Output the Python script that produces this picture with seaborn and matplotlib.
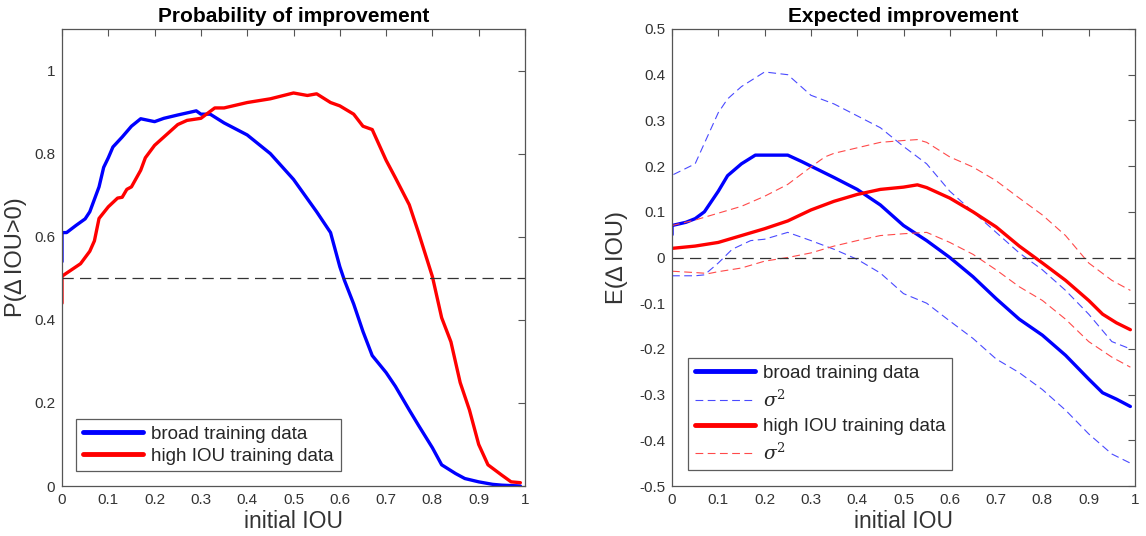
import numpy as np
import pandas as pd
import matplotlib
matplotlib.use("Agg")
import matplotlib.pyplot as plt
import seaborn as sns

# ---------------- data ----------------
# Probability of improvement
p_broad_x = [0.0, 0.0, 0.01, 0.03, 0.05, 0.06, 0.07, 0.08, 0.09, 0.10, 0.11, 0.13, 0.15, 0.17,
             0.20, 0.22, 0.25, 0.29, 0.30, 0.32, 0.35, 0.40, 0.45, 0.50, 0.55, 0.58, 0.60,
             0.61, 0.63, 0.65, 0.67, 0.70, 0.72, 0.75, 0.77, 0.80, 0.82, 0.85, 0.87, 0.90,
             0.93, 0.95, 0.99]
p_broad_y = [0.54, 0.61, 0.61, 0.627, 0.643, 0.66, 0.69, 0.72, 0.767, 0.79, 0.816, 0.84, 0.866,
             0.884, 0.877, 0.885, 0.893, 0.903, 0.895, 0.895, 0.874, 0.845, 0.80, 0.738, 0.66,
             0.61, 0.528, 0.495, 0.438, 0.372, 0.314, 0.273, 0.24, 0.183, 0.146, 0.092, 0.051,
             0.03, 0.018, 0.01, 0.004, 0.002, 0.0]

p_high_x = [0.0, 0.0, 0.02, 0.04, 0.06, 0.07, 0.08, 0.10, 0.12, 0.13, 0.14, 0.15, 0.17, 0.18,
            0.20, 0.22, 0.25, 0.27, 0.30, 0.33, 0.35, 0.40, 0.45, 0.50, 0.53, 0.55, 0.58,
            0.60, 0.63, 0.65, 0.67, 0.70, 0.72, 0.75, 0.77, 0.80, 0.82, 0.84, 0.86, 0.88,
            0.90, 0.92, 0.95, 0.97, 0.99]
p_high_y = [0.44, 0.505, 0.52, 0.535, 0.565, 0.59, 0.644, 0.672, 0.693, 0.695, 0.714, 0.72,
            0.76, 0.79, 0.82, 0.84, 0.87, 0.88, 0.885, 0.91, 0.91, 0.923, 0.932, 0.946, 0.94,
            0.944, 0.923, 0.915, 0.895, 0.866, 0.858, 0.784, 0.742, 0.677, 0.61, 0.504, 0.405,
            0.347, 0.249, 0.183, 0.10, 0.051, 0.026, 0.01, 0.008]

# Expected improvement
e_broad_x = [0.0, 0.0, 0.03, 0.05, 0.07, 0.10, 0.12, 0.15, 0.18, 0.20, 0.25, 0.28, 0.30, 0.35,
             0.40, 0.45, 0.50, 0.55, 0.60, 0.65, 0.70, 0.75, 0.80, 0.85, 0.90, 0.93, 0.96, 0.99]
e_broad_y = [0.05, 0.07, 0.077, 0.085, 0.10, 0.145, 0.179, 0.205, 0.224, 0.224, 0.224, 0.21,
             0.20, 0.175, 0.149, 0.115, 0.07, 0.037, 0.0, -0.042, -0.09, -0.135, -0.17,
             -0.214, -0.266, -0.296, -0.31, -0.326]

e_high_x = [0.0, 0.05, 0.10, 0.15, 0.20, 0.25, 0.30, 0.35, 0.40, 0.45, 0.50, 0.53, 0.55, 0.60,
            0.65, 0.70, 0.75, 0.80, 0.85, 0.90, 0.93, 0.96, 0.99]
e_high_y = [0.02, 0.025, 0.033, 0.048, 0.063, 0.08, 0.104, 0.123, 0.138, 0.149, 0.154, 0.159,
            0.153, 0.13, 0.10, 0.067, 0.025, -0.012, -0.05, -0.094, -0.124, -0.143, -0.158]

s_broad_up_x = [0.0, 0.0, 0.02, 0.05, 0.07, 0.10, 0.12, 0.15, 0.20, 0.25, 0.30, 0.35, 0.40, 0.45,
                0.50, 0.55, 0.60, 0.65, 0.70, 0.75, 0.80, 0.85, 0.90, 0.95, 0.99]
s_broad_up_y = [0.13, 0.18, 0.19, 0.205, 0.25, 0.317, 0.347, 0.374, 0.406, 0.40, 0.355, 0.336,
                0.31, 0.284, 0.243, 0.205, 0.145, 0.10, 0.055, 0.01, -0.027, -0.072, -0.124,
                -0.184, -0.20]

s_broad_lo_x = [0.0, 0.05, 0.07, 0.10, 0.13, 0.17, 0.20, 0.25, 0.30, 0.35, 0.40, 0.45, 0.50,
                0.55, 0.60, 0.65, 0.70, 0.75, 0.80, 0.85, 0.90, 0.95, 0.99]
s_broad_lo_y = [-0.04, -0.04, -0.038, -0.012, 0.018, 0.037, 0.04, 0.055, 0.037, 0.018, -0.004,
                -0.034, -0.079, -0.10, -0.139, -0.177, -0.222, -0.252, -0.289, -0.334, -0.386,
                -0.43, -0.45]

s_high_up_x = [0.0, 0.05, 0.10, 0.15, 0.20, 0.25, 0.30, 0.33, 0.35, 0.40, 0.45, 0.50, 0.53,
               0.55, 0.60, 0.65, 0.70, 0.75, 0.80, 0.85, 0.90, 0.95, 0.99]
s_high_up_y = [0.07, 0.082, 0.097, 0.112, 0.134, 0.16, 0.198, 0.22, 0.228, 0.24, 0.252, 0.256,
               0.258, 0.252, 0.22, 0.198, 0.168, 0.13, 0.093, 0.048, -0.012, -0.05, -0.072]

s_high_lo_x = [0.0, 0.05, 0.08, 0.10, 0.15, 0.20, 0.25, 0.30, 0.35, 0.40, 0.45, 0.50, 0.55,
               0.60, 0.65, 0.70, 0.75, 0.80, 0.85, 0.90, 0.95, 0.99]
s_high_lo_y = [-0.03, -0.033, -0.035, -0.031, -0.023, -0.008, 0.0, 0.01, 0.025, 0.037, 0.048,
               0.052, 0.055, 0.033, 0.007, -0.027, -0.064, -0.094, -0.135, -0.184, -0.218, -0.24]

x_ticks = [0, 0.1, 0.2, 0.3, 0.4, 0.5, 0.6, 0.7, 0.8, 0.9, 1]
x_ticklabels = ["0", "0.1", "0.2", "0.3", "0.4", "0.5", "0.6", "0.7", "0.8", "0.9", "1"]
p_yticks = [0, 0.2, 0.4, 0.6, 0.8, 1]
p_yticklabels = ["0", "0.2", "0.4", "0.6", "0.8", "1"]
e_yticks = [-0.5, -0.4, -0.3, -0.2, -0.1, 0, 0.1, 0.2, 0.3, 0.4, 0.5]
e_yticklabels = ["-0.5", "-0.4", "-0.3", "-0.2", "-0.1", "0", "0.1", "0.2", "0.3", "0.4", "0.5"]

# ---------------- style ----------------
sns.set_style("white")
plt.rcParams["font.family"] = ["Liberation Sans", "DejaVu Sans"]
plt.rcParams["mathtext.fontset"] = "dejavuserif"

AX_COL = "#555555"
TXT_COL = "#333333"
BLUE = "#0000ff"
RED = "#ff0000"
BLUE_L = "#4a4aff"
RED_L = "#ff4a4a"

fig = plt.figure(figsize=(11.46, 5.36), dpi=100)
ax1 = fig.add_axes([62 / 1146, 50 / 536, 463 / 1146, 457 / 536])
ax2 = fig.add_axes([672 / 1146, 50 / 536, 463 / 1146, 457 / 536])


def line(ax, xs, ys, **kw):
    df = pd.DataFrame({"x": xs, "y": ys})
    sns.lineplot(data=df, x="x", y="y", ax=ax, estimator=None, sort=False, **kw)


# left panel
line(ax1, p_broad_x, p_broad_y, color=BLUE, lw=2.4, label="broad training data")
line(ax1, p_high_x, p_high_y, color=RED, lw=2.4, label="high IOU training data")
ax1.axhline(0.5, color="#333333", lw=0.9, dashes=(9, 5))

# right panel
line(ax2, e_broad_x, e_broad_y, color=BLUE, lw=2.4, label="broad training data")
line(ax2, s_broad_up_x, s_broad_up_y, color=BLUE_L, lw=0.8, dashes=(7, 4), label=r"$\sigma^2$")
line(ax2, s_broad_lo_x, s_broad_lo_y, color=BLUE_L, lw=0.8, dashes=(7, 4))
line(ax2, e_high_x, e_high_y, color=RED, lw=2.4, label="high IOU training data")
line(ax2, s_high_up_x, s_high_up_y, color=RED_L, lw=0.8, dashes=(7, 4), label=r"$\sigma^2$")
line(ax2, s_high_lo_x, s_high_lo_y, color=RED_L, lw=0.8, dashes=(7, 4))
ax2.axhline(0.0, color="#333333", lw=0.9, dashes=(9, 5))

for ax in (ax1, ax2):
    ax.set_xlim(0, 1)
    ax.set_xticks(x_ticks)
    ax.set_xticklabels(x_ticklabels)
    ax.tick_params(direction="in", top=True, right=True, length=5, width=0.8,
                   color=AX_COL, labelcolor=TXT_COL, labelsize=11, pad=5)
    for s in ax.spines.values():
        s.set_color(AX_COL)
        s.set_linewidth(0.9)
    ax.set_xlabel("initial IOU", fontsize=16.5, color=TXT_COL, labelpad=2)

ax1.set_ylim(0, 1.1)
ax1.set_yticks(p_yticks)
ax1.set_yticklabels(p_yticklabels)
ax1.set_ylabel("P(\u2206\u2009IOU>0)", fontsize=17, color=TXT_COL, labelpad=5)
ax1.set_title("Probability of improvement", fontsize=15, fontweight="bold", color="black", pad=5)

ax2.set_ylim(-0.5, 0.5)
ax2.set_yticks(e_yticks)
ax2.set_yticklabels(e_yticklabels)
ax2.set_ylabel("E(\u2206\u2009IOU)", fontsize=17, color=TXT_COL, labelpad=8)
ax2.set_title("Expected improvement", fontsize=15, fontweight="bold", color="black", pad=5)

leg1 = ax1.legend(loc="lower left", bbox_to_anchor=(0.031, 0.032), fontsize=13.5,
                  frameon=True, fancybox=False, edgecolor="#333333", handlelength=3.2,
                  handletextpad=0.45, borderpad=0.35, labelspacing=0.25, borderaxespad=0)
leg1.get_frame().set_linewidth(0.9)
for h in leg1.get_lines():
    h.set_linewidth(3.5)

handles, labels = ax2.get_legend_handles_labels()
leg2 = ax2.legend(handles, labels, loc="lower left", bbox_to_anchor=(0.035, 0.034), fontsize=13.5,
                  frameon=True, fancybox=False, edgecolor="#333333", handlelength=3.2,
                  handletextpad=0.45, borderpad=0.35, labelspacing=0.4, borderaxespad=0)
leg2.get_frame().set_linewidth(0.9)
for h, lab in zip(leg2.get_lines(), labels):
    if "sigma" not in lab:
        h.set_linewidth(3.5)

fig.savefig("out.png", dpi=100)
